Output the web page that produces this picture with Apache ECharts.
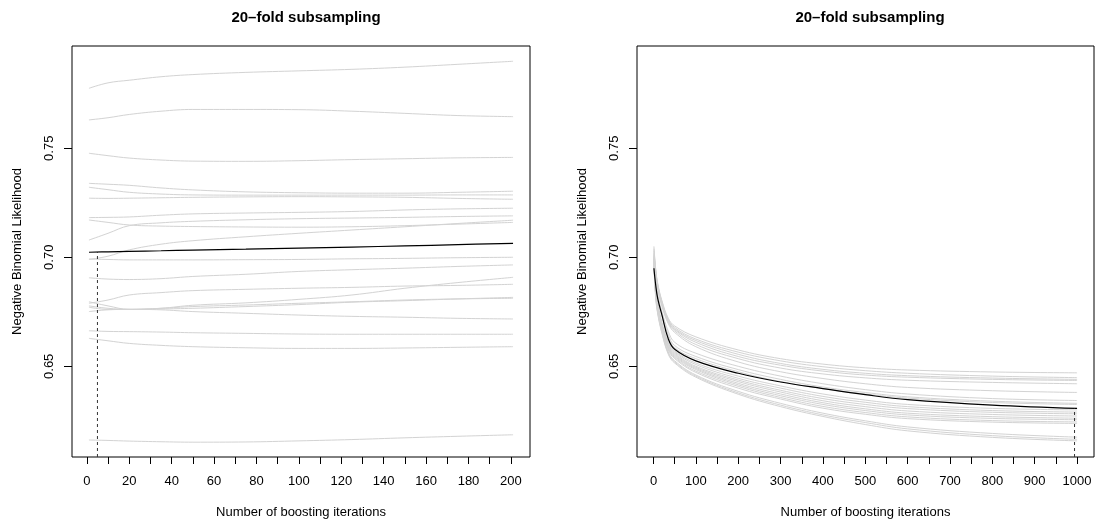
<!DOCTYPE html>
<html>
<head>
<meta charset="utf-8">
<script src="https://cdn.jsdelivr.net/npm/echarts@6/dist/echarts.min.js"></script>
<style>
	html, body { margin: 0; padding: 0; background: #fff; }
	#main { width: 1096px; height: 525px; }
</style>
</head>
<body>
<div id="main"></div>
<script>
// left panel: 200 boosting iterations
const leftIters = [1, 10, 20, 35, 50, 75, 100, 125, 150, 175, 201];
const leftFoldRisk = [
	[0.7775, 0.7800, 0.7812, 0.7828, 0.7838, 0.7848, 0.7855, 0.7862, 0.7872, 0.7885, 0.7899],
	[0.7630, 0.7640, 0.7655, 0.7670, 0.7678, 0.7678, 0.7677, 0.7670, 0.7660, 0.7650, 0.7645],
	[0.7477, 0.7466, 0.7455, 0.7446, 0.7441, 0.7440, 0.7443, 0.7448, 0.7452, 0.7456, 0.7458],
	[0.7339, 0.7335, 0.7330, 0.7318, 0.7309, 0.7300, 0.7296, 0.7294, 0.7294, 0.7298, 0.7303],
	[0.7321, 0.7310, 0.7298, 0.7290, 0.7286, 0.7285, 0.7285, 0.7285, 0.7285, 0.7286, 0.7286],
	[0.7271, 0.7270, 0.7271, 0.7273, 0.7275, 0.7277, 0.7278, 0.7277, 0.7275, 0.7270, 0.7266],
	[0.7182, 0.7183, 0.7185, 0.7193, 0.7199, 0.7203, 0.7206, 0.7210, 0.7217, 0.7222, 0.7225],
	[0.7171, 0.7160, 0.7148, 0.7143, 0.7141, 0.7139, 0.7138, 0.7140, 0.7145, 0.7152, 0.7160],
	[0.7079, 0.7110, 0.7145, 0.7158, 0.7165, 0.7172, 0.7177, 0.7180, 0.7183, 0.7187, 0.7190],
	[0.6990, 0.7005, 0.7034, 0.7060, 0.7076, 0.7094, 0.7110, 0.7125, 0.7140, 0.7155, 0.7170],
	[0.6992, 0.6990, 0.6988, 0.6988, 0.6988, 0.6989, 0.6990, 0.6993, 0.6995, 0.6998, 0.7000],
	[0.6906, 0.6900, 0.6898, 0.6902, 0.6912, 0.6922, 0.6935, 0.6943, 0.6950, 0.6958, 0.6965],
	[0.6789, 0.6804, 0.6827, 0.6838, 0.6847, 0.6853, 0.6858, 0.6862, 0.6868, 0.6871, 0.6876],
	[0.6796, 0.6777, 0.6761, 0.6766, 0.6780, 0.6791, 0.6807, 0.6827, 0.6858, 0.6884, 0.6908],
	[0.6777, 0.6766, 0.6761, 0.6766, 0.6774, 0.6781, 0.6789, 0.6796, 0.6804, 0.6809, 0.6812],
	[0.6771, 0.6761, 0.6761, 0.6763, 0.6766, 0.6774, 0.6783, 0.6794, 0.6801, 0.6809, 0.6816],
	[0.6751, 0.6759, 0.6761, 0.6759, 0.6751, 0.6743, 0.6735, 0.6729, 0.6725, 0.6720, 0.6717],
	[0.6663, 0.6660, 0.6659, 0.6657, 0.6654, 0.6651, 0.6648, 0.6647, 0.6647, 0.6647, 0.6647],
	[0.6628, 0.6617, 0.6605, 0.6596, 0.6590, 0.6585, 0.6582, 0.6582, 0.6584, 0.6587, 0.6590],
	[0.6162, 0.6160, 0.6157, 0.6154, 0.6152, 0.6153, 0.6158, 0.6164, 0.6172, 0.6179, 0.6186]
];
const leftMeanRisk = [0.7023, 0.7025, 0.7027, 0.7030, 0.7033, 0.7037, 0.7042, 0.7047, 0.7052, 0.7058, 0.7064];
const leftMstop = 5;
const leftMstopRisk = 0.7024;

// right panel: 1000 boosting iterations
const rightIters = [1, 5, 10, 20, 35, 50, 100, 200, 300, 400, 500, 600, 800, 1000];
const rightFoldRisk = [
	[0.7050, 0.6950, 0.6880, 0.6800, 0.6720, 0.6685, 0.6635, 0.6575, 0.6535, 0.6510, 0.6493, 0.6483, 0.6474, 0.6470],
	[0.7040, 0.6945, 0.6875, 0.6795, 0.6715, 0.6678, 0.6625, 0.6565, 0.6525, 0.6498, 0.6480, 0.6468, 0.6455, 0.6448],
	[0.7030, 0.6940, 0.6870, 0.6790, 0.6710, 0.6672, 0.6618, 0.6555, 0.6513, 0.6486, 0.6468, 0.6457, 0.6446, 0.6440],
	[0.7020, 0.6935, 0.6865, 0.6785, 0.6705, 0.6668, 0.6610, 0.6545, 0.6505, 0.6478, 0.6460, 0.6450, 0.6440, 0.6435],
	[0.7015, 0.6930, 0.6860, 0.6780, 0.6700, 0.6662, 0.6600, 0.6535, 0.6492, 0.6465, 0.6447, 0.6436, 0.6426, 0.6420],
	[0.7010, 0.6925, 0.6855, 0.6775, 0.6695, 0.6655, 0.6590, 0.6520, 0.6475, 0.6444, 0.6420, 0.6403, 0.6388, 0.6380],
	[0.7005, 0.6900, 0.6830, 0.6750, 0.6660, 0.6610, 0.6560, 0.6500, 0.6455, 0.6420, 0.6393, 0.6373, 0.6352, 0.6343],
	[0.7000, 0.6890, 0.6820, 0.6740, 0.6645, 0.6595, 0.6545, 0.6485, 0.6440, 0.6405, 0.6380, 0.6360, 0.6340, 0.6330],
	[0.6995, 0.6880, 0.6810, 0.6730, 0.6635, 0.6585, 0.6535, 0.6475, 0.6430, 0.6398, 0.6373, 0.6354, 0.6334, 0.6325],
	[0.6995, 0.6870, 0.6790, 0.6700, 0.6610, 0.6570, 0.6515, 0.6455, 0.6410, 0.6373, 0.6345, 0.6325, 0.6307, 0.6300],
	[0.6990, 0.6865, 0.6785, 0.6695, 0.6605, 0.6565, 0.6508, 0.6445, 0.6400, 0.6362, 0.6335, 0.6315, 0.6297, 0.6290],
	[0.6990, 0.6860, 0.6780, 0.6690, 0.6600, 0.6560, 0.6500, 0.6437, 0.6390, 0.6352, 0.6325, 0.6306, 0.6289, 0.6282],
	[0.6985, 0.6855, 0.6775, 0.6685, 0.6595, 0.6555, 0.6495, 0.6430, 0.6382, 0.6342, 0.6315, 0.6295, 0.6279, 0.6272],
	[0.6985, 0.6850, 0.6770, 0.6680, 0.6590, 0.6550, 0.6490, 0.6422, 0.6373, 0.6333, 0.6305, 0.6285, 0.6269, 0.6262],
	[0.6980, 0.6845, 0.6765, 0.6675, 0.6585, 0.6545, 0.6485, 0.6415, 0.6365, 0.6325, 0.6297, 0.6277, 0.6261, 0.6255],
	[0.6980, 0.6840, 0.6760, 0.6670, 0.6580, 0.6540, 0.6478, 0.6408, 0.6357, 0.6316, 0.6288, 0.6268, 0.6251, 0.6245],
	[0.6975, 0.6835, 0.6755, 0.6665, 0.6575, 0.6535, 0.6472, 0.6400, 0.6350, 0.6308, 0.6280, 0.6260, 0.6244, 0.6238],
	[0.6975, 0.6830, 0.6750, 0.6660, 0.6565, 0.6525, 0.6460, 0.6385, 0.6330, 0.6285, 0.6250, 0.6222, 0.6192, 0.6175],
	[0.6970, 0.6825, 0.6745, 0.6655, 0.6560, 0.6520, 0.6455, 0.6378, 0.6322, 0.6277, 0.6242, 0.6213, 0.6182, 0.6165],
	[0.6970, 0.6820, 0.6740, 0.6650, 0.6555, 0.6515, 0.6450, 0.6372, 0.6315, 0.6270, 0.6233, 0.6204, 0.6174, 0.6158]
];
const rightMeanRisk = [0.6950, 0.6875, 0.6810, 0.6735, 0.6625, 0.6578, 0.6525, 0.6468, 0.6428, 0.6398, 0.6370, 0.6347, 0.6322, 0.6307];
const rightMstop = 994;
const rightMstopRisk = 0.6307;

// axes
const yMin = 0.6084;
const yMax = 0.7969;
const yTicks = [0.65, 0.70, 0.75];
const leftXRange = [-7, 209];
const leftXTicks = [0, 10, 20, 30, 40, 50, 60, 70, 80, 90, 100, 110, 120, 130, 140, 150, 160, 170, 180, 190, 200];
const leftXLabels = [0, 20, 40, 60, 80, 100, 120, 140, 160, 180, 200];
const rightXRange = [-38.96, 1039.96];
const rightXTicks = [0, 50, 100, 150, 200, 250, 300, 350, 400, 450, 500, 550, 600, 650, 700, 750, 800, 850, 900, 950, 1000];
const rightXLabels = [0, 100, 200, 300, 400, 500, 600, 700, 800, 900, 1000];

const titleText = "20\u2013fold subsampling";
const xName = "Number of boosting iterations";
const yName = "Negative Binomial Likelihood";

const font = "'Liberation Sans', Arial, Helvetica, sans-serif";

function pairs(xs, ys) {
	return xs.map((x, i) => [x, ys[i]]);
}

function xAxisFor(idx, range, ticks, labels) {
	return {
		type: "value",
		gridIndex: idx,
		min: range[0],
		max: range[1],
		name: xName,
		nameLocation: "middle",
		nameGap: 49,
		nameTextStyle: { fontFamily: font, fontSize: 13, color: "#000" },
		axisLine: { show: false, onZero: false },
		axisTick: { show: true, length: 7, customValues: ticks, lineStyle: { color: "#000", width: 1 } },
		axisLabel: {
			customValues: labels,
			margin: 18,
			fontFamily: font,
			fontSize: 13,
			color: "#000",
			formatter: (v) => String(v),
		},
		splitLine: { show: false },
	};
}

function yAxisFor(idx) {
	return {
		type: "value",
		gridIndex: idx,
		min: yMin,
		max: yMax,
		name: yName,
		nameLocation: "middle",
		nameGap: 48,
		nameTextStyle: { fontFamily: font, fontSize: 13, color: "#000" },
		axisLine: { show: false, onZero: false },
		axisTick: { show: true, length: 8, customValues: yTicks, lineStyle: { color: "#000", width: 1 } },
		axisLabel: {
			customValues: yTicks,
			rotate: 90,
			margin: 16,
			fontFamily: font,
			fontSize: 13,
			color: "#000",
			formatter: (v) => v.toFixed(2),
		},
		splitLine: { show: false },
	};
}

function panelSeries(idx, iters, folds, mean, mstop, mstopRisk) {
	const out = folds.map((f, i) => ({
		name: "fold " + (i + 1),
		type: "line",
		xAxisIndex: idx,
		yAxisIndex: idx,
		data: pairs(iters, f),
		showSymbol: false,
		smooth: 0.4,
		silent: true,
		lineStyle: { color: "#d3d3d3", width: 1 },
		z: 2,
	}));
	out.push({
		name: "mean",
		type: "line",
		xAxisIndex: idx,
		yAxisIndex: idx,
		data: pairs(iters, mean),
		showSymbol: false,
		smooth: 0.4,
		silent: true,
		lineStyle: { color: "#000", width: 1.2 },
		z: 3,
	});
	out.push({
		name: "mstop",
		type: "line",
		xAxisIndex: idx,
		yAxisIndex: idx,
		data: [[mstop, yMin], [mstop, mstopRisk]],
		showSymbol: false,
		silent: true,
		lineStyle: { color: "#333", width: 1, type: [3, 3] },
		z: 4,
	});
	return out;
}

const chart = echarts.init(document.getElementById("main"), null, { renderer: "canvas" });

const option = {
	animation: false,
	backgroundColor: "#fff",
	title: [
		{
			text: titleText,
			left: 301,
			top: 5,
			textAlign: "center",
			textStyle: { fontFamily: font, fontSize: 15, fontWeight: "bold", color: "#000" },
		},
		{
			text: titleText,
			left: 865,
			top: 5,
			textAlign: "center",
			textStyle: { fontFamily: font, fontSize: 15, fontWeight: "bold", color: "#000" },
		},
	],
	grid: [
		{ left: 72, top: 46, width: 458, height: 411, show: true, borderColor: "#000", borderWidth: 1, backgroundColor: "transparent" },
		{ left: 637, top: 46, width: 457, height: 411, show: true, borderColor: "#000", borderWidth: 1, backgroundColor: "transparent" },
	],
	xAxis: [
		xAxisFor(0, leftXRange, leftXTicks, leftXLabels),
		xAxisFor(1, rightXRange, rightXTicks, rightXLabels),
	],
	yAxis: [yAxisFor(0), yAxisFor(1)],
	series: [
		...panelSeries(0, leftIters, leftFoldRisk, leftMeanRisk, leftMstop, leftMstopRisk),
		...panelSeries(1, rightIters, rightFoldRisk, rightMeanRisk, rightMstop, rightMstopRisk),
	],
};

chart.setOption(option, true);
</script>
</body>
</html>
